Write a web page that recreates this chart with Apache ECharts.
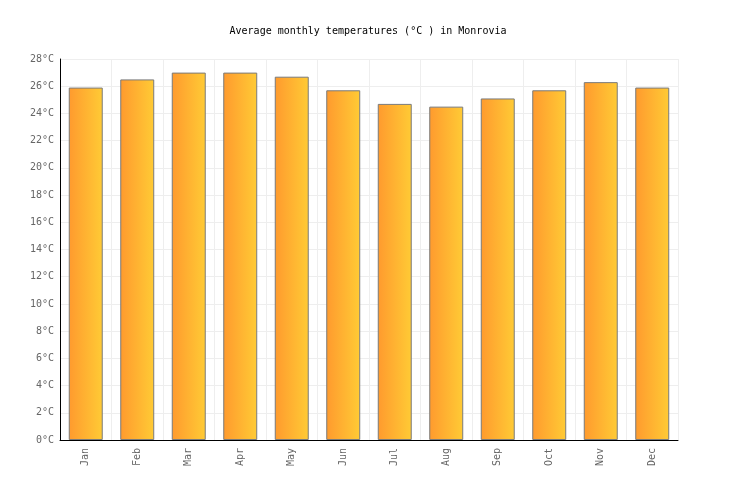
<!DOCTYPE html>
<html>
<head>
<meta charset="utf-8">
<script src="https://cdn.jsdelivr.net/npm/echarts@6/dist/echarts.min.js"></script>
<style>html,body{margin:0;padding:0;background:#fff}#c{width:736px;height:500px}</style>
</head>
<body>
<div id="c"></div>
<script>
var months = ["Jan","Feb","Mar","Apr","May","Jun","Jul","Aug","Sep","Oct","Nov","Dec"];
var temps = [25.9, 26.5, 27.0, 27.0, 26.7, 25.7, 24.7, 24.5, 25.1, 25.7, 26.3, 25.9];
var titleText = "Average monthly temperatures (°C ) in Monrovia";

var chart = echarts.init(document.getElementById('c'), null, {renderer: 'canvas'});
var font = "'DejaVu Sans Mono', monospace";
chart.setOption({
  animation: false,
  backgroundColor: '#fff',
  title: {
    text: titleText,
    left: 'center',
    top: 21,
    textStyle: {fontFamily: font, fontSize: 10, fontWeight: 'normal', color: '#000'}
  },
  grid: {left: 60, right: 58, top: 59, bottom: 60},
  xAxis: {
    type: 'category',
    data: months,
    axisLine: {lineStyle: {color: '#000', width: 1}},
    axisTick: {show: false},
    axisLabel: {rotate: 90, fontFamily: font, fontSize: 10, color: '#666', margin: 8},
    splitLine: {show: true, lineStyle: {color: '#eeeeee'}}
  },
  yAxis: {
    type: 'value',
    min: 0, max: 28, interval: 2,
    axisLine: {show: true, lineStyle: {color: '#000', width: 1}},
    axisTick: {show: false},
    axisLabel: {formatter: '{value}°C', fontFamily: font, fontSize: 10, color: '#666', margin: 6},
    splitLine: {show: true, lineStyle: {color: '#eeeeee'}}
  },
  series: [{
    type: 'bar',
    data: temps,
    barWidth: '66%',
    itemStyle: {
      color: new echarts.graphic.LinearGradient(0, 0, 1, 0, [
        {offset: 0, color: '#FF9A2E'},
        {offset: 1, color: '#FFCB35'}
      ]),
      borderColor: '#7a7a7a',
      borderWidth: 1
    }
  }]
});
</script>
</body>
</html>
